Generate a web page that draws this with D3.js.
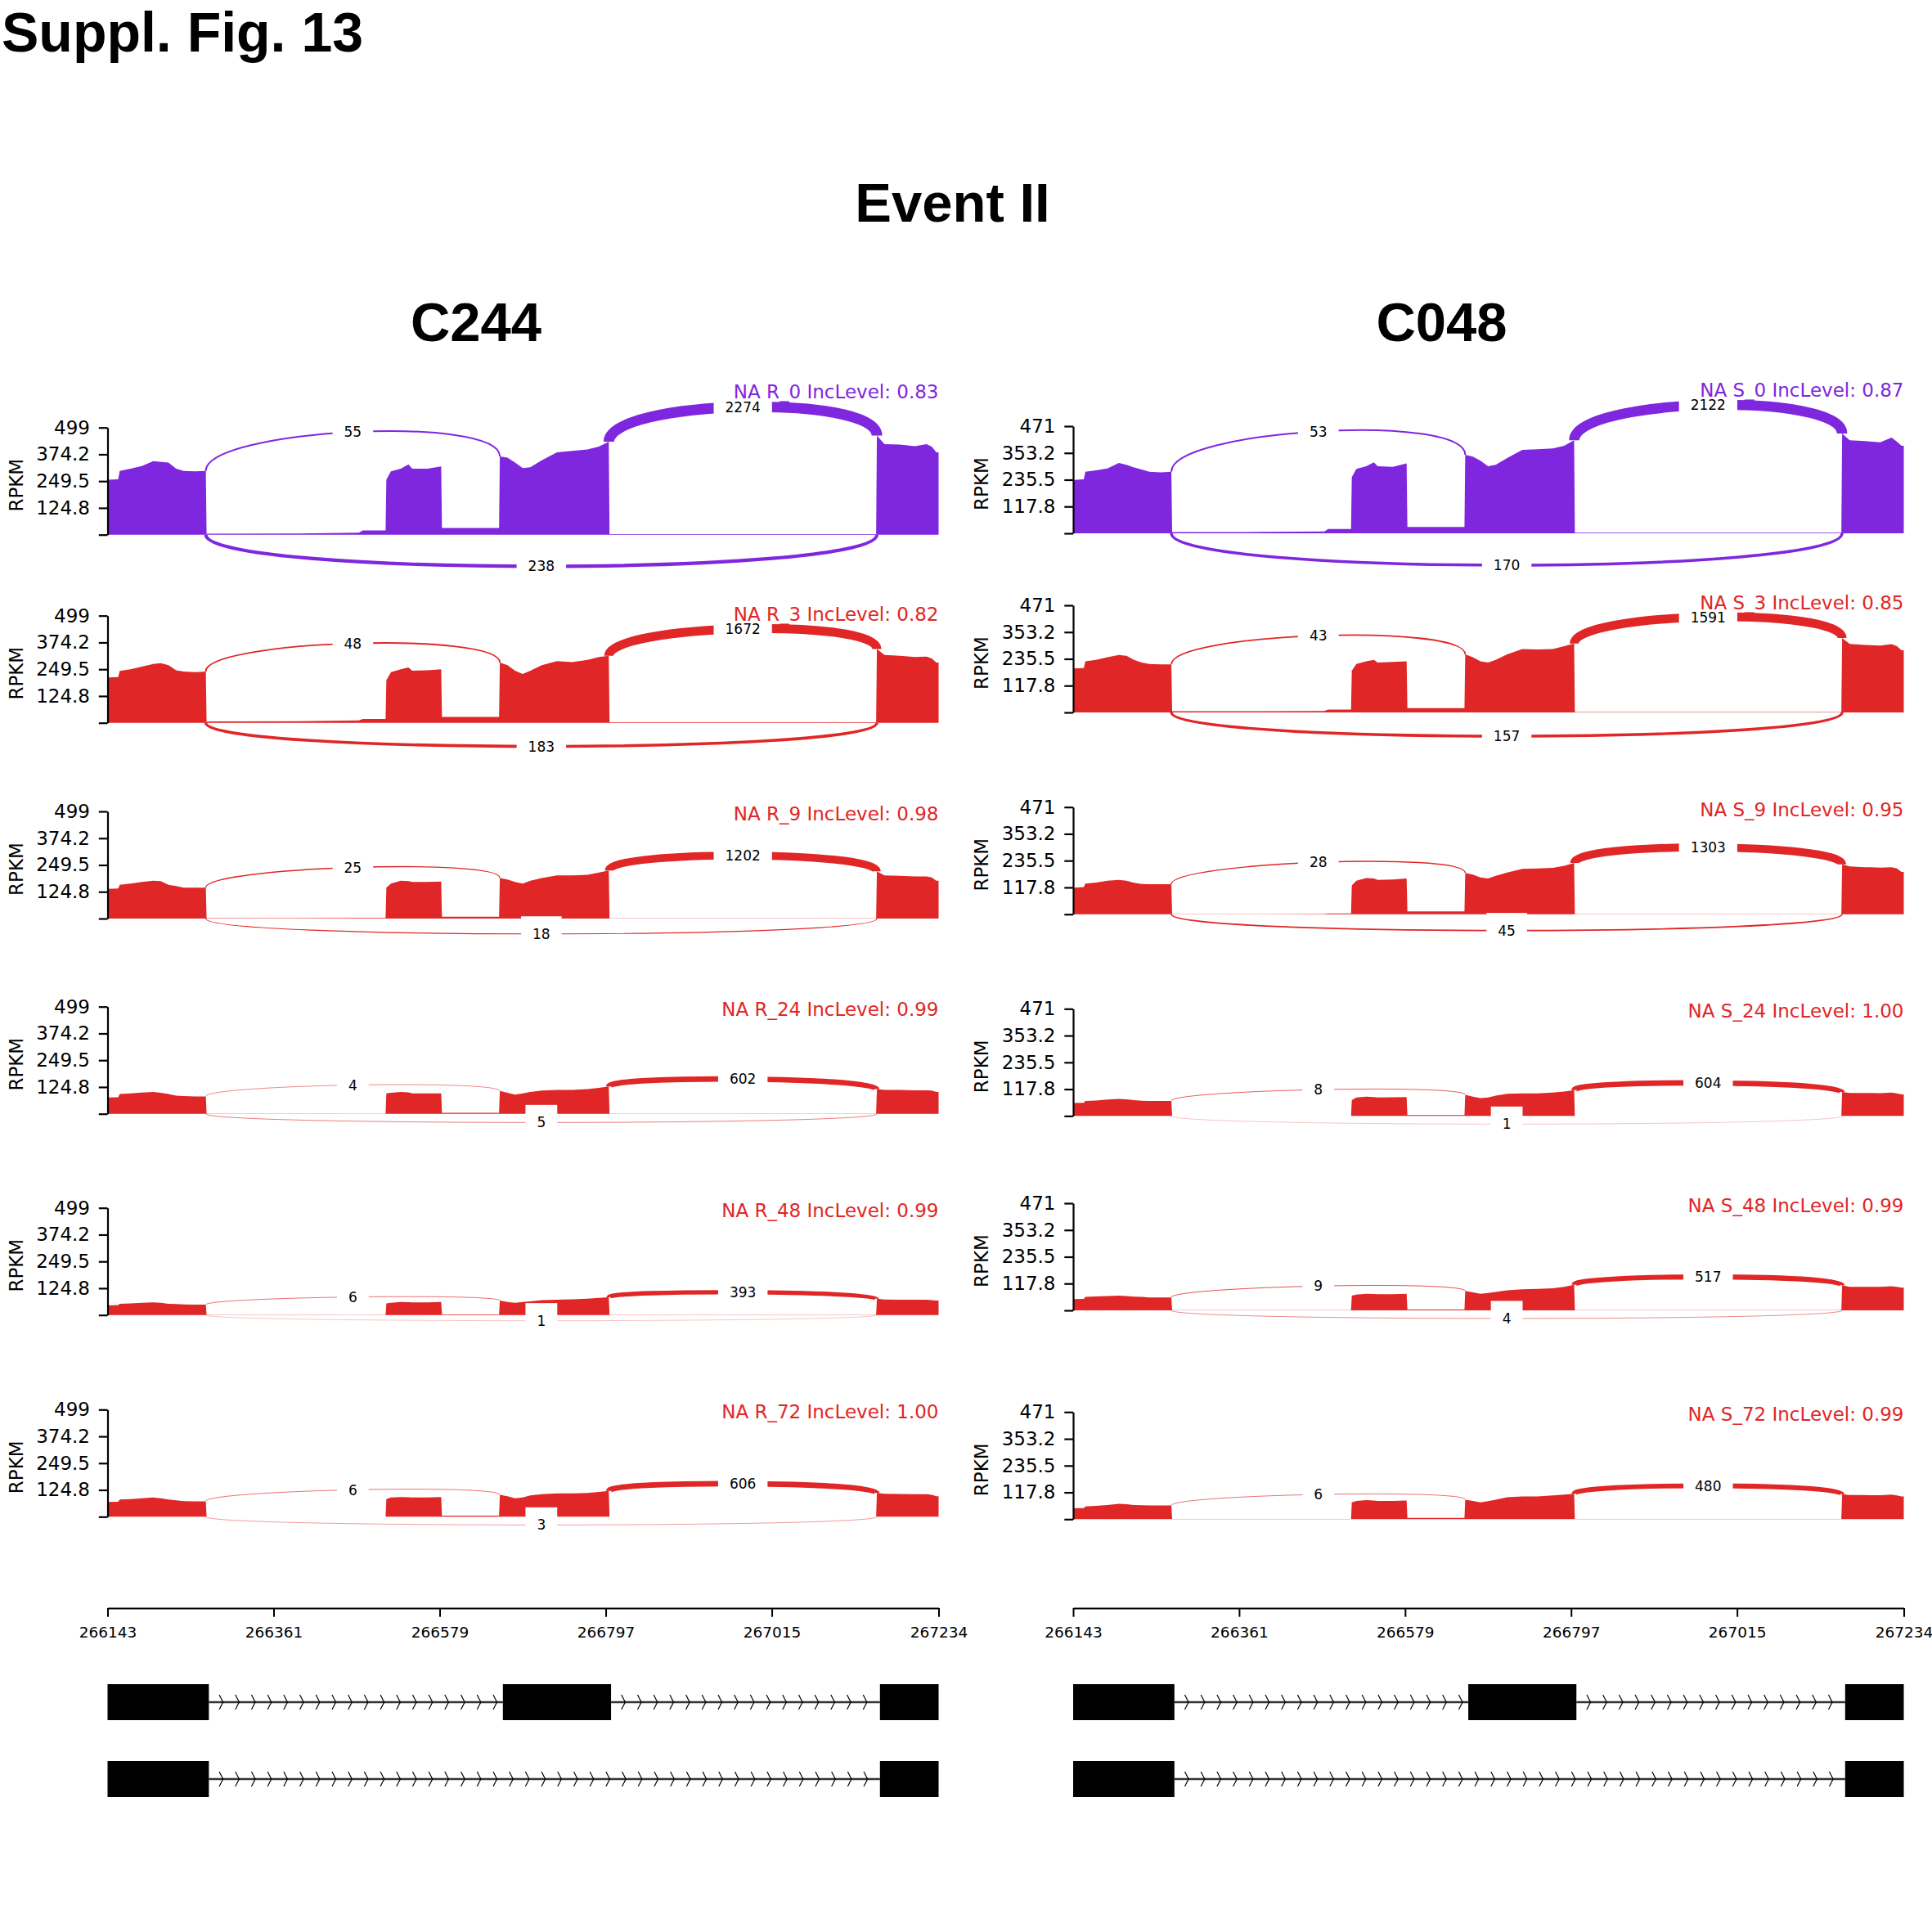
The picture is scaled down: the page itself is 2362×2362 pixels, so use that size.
<!DOCTYPE html>
<html><head><meta charset="utf-8">
<script src="https://cdn.jsdelivr.net/npm/d3@7"></script>
<style>body{margin:0;background:#fff} svg{display:block}</style>
</head><body>
<svg id="fig" width="2362" height="2362"></svg>
<script>
// ---------------- DATA ----------------
// genomic sample positions of the coverage tracks
const positions = [266143,266157,266159,266173,266188,266203,266213,266223,266233,266243,266258,266272,
  266273,266393,266473,266478,266508,
  266509,266515,266528,266538,266543,266563,266581,
  266582,266657,
  266658,266668,266678,266688,266698,266713,266733,266753,266773,266788,266801,
  266802,267152,
  267153,267163,267183,267203,267218,267225,267231,267234];

// RPKM coverage, C244 samples
const covR0  = [256,258,297,307,320,343,339,336,307,297,295,297, 5,6,9,20,20, 256,295,307,327,307,307,318, 31,31, 365,359,336,310,314,346,384,390,397,410,433, 3,3, 462,422,420,412,422,410,384,384];
const covR3  = [211,213,242,249,262,274,278,268,245,239,236,239, 6,7,11,18,18, 198,236,249,258,243,245,249, 27,27, 281,268,243,227,243,268,287,283,293,306,312, 3,3, 344,316,312,306,308,300,281,281];
const covR9  = [138,140,157,163,170,176,174,157,151,144,144,144, 2,2,3,3,3, 144,163,176,174,170,170,172, 9,9, 189,182,170,163,176,189,201,201,204,214,224, 1,1, 220,201,199,196,196,191,176,176];
const covR24 = [76,77,92,95,99,102,98,92,85,83,81,81, 1,1,1,1,1, 95,98,102,100,95,95,95, 5,5, 106,98,89,95,102,108,111,111,115,121,127, 0.5,0.5, 115,111,111,109,109,108,102,102];
const covR48 = [45,46,52,54,57,59,57,52,51,49,48,48, 0.5,0.5,0.5,0.5,0.5, 54,57,61,60,59,59,61, 3,3, 67,61,57,61,64,69,71,73,76,80,83, 0.5,0.5, 76,72,71,71,71,69,67,67];
const covR72 = [69,70,80,82,86,90,86,80,76,73,72,72, 0.5,0.5,0.5,0.5,0.5, 82,90,92,91,90,90,92, 5,5, 102,95,86,90,99,105,109,109,111,115,120, 0.5,0.5, 111,107,106,105,105,102,95,95];
// RPKM coverage, C048 samples
const covS0  = [235,237,271,277,285,309,301,289,280,271,268,271, 5,6,8,19,19, 247,283,295,312,295,292,307, 28,28, 345,337,319,295,301,331,367,369,373,385,409, 3,3, 439,409,405,400,421,403,385,385];
const covS3  = [193,195,225,231,243,253,249,231,219,213,211,211, 5,5,6,13,13, 183,213,225,231,219,222,225, 19,19, 255,243,225,219,231,255,279,277,279,291,303, 2,2, 327,301,297,294,300,291,273,273];
const covS9  = [117,119,135,139,147,151,147,138,133,132,132,132, 1,1,2,3,3, 127,147,159,157,151,153,157, 12,12, 181,174,162,157,169,183,199,201,204,213,225, 1,1, 219,210,207,205,207,201,186,186];
const covS24 = [57,58,66,68,72,75,73,69,67,66,66,66, 0.5,0.5,0.5,0.5,0.5, 69,81,85,83,81,82,83, 4,4, 93,85,78,81,89,97,99,99,103,107,113, 0.5,0.5, 105,101,101,100,103,99,95,95];
const covS48 = [49,50,59,61,63,65,63,60,59,57,57,57, 0.5,0.5,0.5,0.5,0.5, 65,69,73,72,71,71,73, 4,4, 85,79,73,76,81,88,93,94,97,103,112, 0.5,0.5, 111,103,103,103,106,103,100,100];
const covS72 = [48,49,56,59,62,68,66,62,61,60,60,60, 1,1,1,1,1, 74,80,84,82,80,80,82, 6,6, 86,80,74,79,86,96,100,100,104,108,112, 1,1, 110,106,106,105,108,104,100,100];

// junctions: [donor, acceptor, side]
const junctions = [[266272,266658,"up"],[266801,267153,"up"],[266272,267153,"down"]];

const samplesC244 = ["NA R_0","NA R_3","NA R_9","NA R_24","NA R_48","NA R_72"];
const incC244 = ["0.83","0.82","0.98","0.99","0.99","1.00"];
const countsC244 = [[55,2274,238],[48,1672,183],[25,1202,18],[4,602,5],[6,393,1],[6,606,3]];
const yTicksC244 = [0,124.8,249.5,374.2,499];

const samplesC048 = ["NA S_0","NA S_3","NA S_9","NA S_24","NA S_48","NA S_72"];
const incC048 = ["0.87","0.85","0.95","1.00","0.99","0.99"];
const countsC048 = [[53,2122,170],[43,1591,157],[28,1303,45],[8,604,1],[9,517,4],[6,480,0]];
const yTicksC048 = [0,117.8,235.5,353.2,471];

const genomicTicks = [266143,266361,266579,266797,267015,267234];
const isoform1 = [[266143,266276],[266662,266804],[267157,267234]];
const isoform2 = [[266143,266276],[267157,267234]];

// ---------------- STYLE / LAYOUT ----------------
const PURPLE = "#7f26df", RED = "#e02626";
const PANEL_H = 131;
const FONT = "'DejaVu Sans', sans-serif";
const TFONT = "'Liberation Sans', Arial, sans-serif";

const columns = [
  {name:"C244", cx:582, x0:131.5, x1:1147.5, zeros:[653.7,883.7,1123,1361.7,1607.7,1854.3],
   samples:samplesC244, inc:incC244, counts:countsC244, yTicks:yTicksC244,
   cov:[covR0,covR3,covR9,covR24,covR48,covR72]},
  {name:"C048", cx:1762.5, x0:1312, x1:2327.5, zeros:[652,871,1117.7,1364.3,1602,1857.3],
   samples:samplesC048, inc:incC048, counts:countsC048, yTicks:yTicksC048,
   cov:[covS0,covS3,covS9,covS24,covS48,covS72]}
];

const svg = d3.select("#fig");
svg.append("rect").attr("width",2362).attr("height",2362).attr("fill","#fff");

svg.append("text").attr("x",2).attr("y",63).attr("font-family",TFONT).attr("font-weight","bold")
  .attr("font-size",68).text("Suppl. Fig. 13");
svg.append("text").attr("x",1164.5).attr("y",271).attr("text-anchor","middle").attr("font-family",TFONT)
  .attr("font-weight","bold").attr("font-size",67).text("Event II");

columns.forEach(col => {
  svg.append("text").attr("x",col.cx).attr("y",417).attr("text-anchor","middle").attr("font-family",TFONT)
    .attr("font-weight","bold").attr("font-size",67).text(col.name);

  const x = d3.scaleLinear().domain([genomicTicks[0], genomicTicks[genomicTicks.length-1]]).range([col.x0, col.x1]);
  const ymax = col.yTicks[col.yTicks.length-1];

  col.cov.forEach((cov, r) => {
    const color = r === 0 ? PURPLE : RED;
    const zeroY = col.zeros[r];
    const y = d3.scaleLinear().domain([0, ymax]).range([zeroY, zeroY - PANEL_H]);
    const g = svg.append("g");

    // coverage
    const area = d3.area().x((d,i)=>x(positions[i])).y0(y(0)).y1(d=>y(d));
    g.append("path").attr("d", area(cov)).attr("fill", color);

    // y axis
    const axis = d3.axisLeft(y).tickValues(col.yTicks).tickFormat(v => v === 0 ? "" : String(v))
      .tickSize(10.7).tickSizeOuter(0).tickPadding(10.8);
    const ag = g.append("g").attr("transform", `translate(${col.x0},0)`).call(axis);
    ag.select(".domain").attr("stroke","#000").attr("stroke-width",2.2);
    ag.selectAll(".tick line").attr("stroke","#000").attr("stroke-width",2.2);
    ag.selectAll(".tick text").attr("font-family",FONT).attr("font-size",23).attr("fill","#000");

    g.append("text").attr("transform",`translate(${col.x0-112},${(zeroY + zeroY-PANEL_H)/2+5}) rotate(-90)`)
      .attr("text-anchor","middle").attr("dy","0.35em").attr("font-family",FONT).attr("font-size",23).text("RPKM");

    // junction arcs
    const h = 0.425 * d3.max(cov);
    const covAt = p => cov[positions.indexOf(p)];
    const arcs = [];
    junctions.forEach((j, k) => {
      const count = col.counts[r][k];
      if (!count) return;
      const x1 = x(j[0]), x2 = x(j[1]);
      const p = d3.path();
      let labVal;
      if (j[2] === "up") {
        const ld = covAt(j[0]), rd = covAt(j[1]);
        p.moveTo(x1, y(ld));
        p.bezierCurveTo(x1, y(ld+h), x2, y(rd+h), x2, y(rd));
        labVal = (ld+rd)/2 + 0.75*h;
      } else {
        p.moveTo(x1, y(0));
        p.bezierCurveTo(x1, y(-h), x2, y(-h), x2, y(0));
        labVal = -0.75*h;
      }
      const w = 0.27 * Math.sqrt(count);
      g.append("path").attr("d", p.toString()).attr("fill","none").attr("stroke",color).attr("stroke-width",w);
      arcs.push({x:(x1+x2)/2, y:y(labVal), count, w, up:j[2]==="up"});
    });

    // junction labels with white boxes
    arcs.forEach(a => {
      const t = g.append("text").attr("x",a.x).attr("y",a.y).attr("dy","0.36em").attr("text-anchor","middle")
        .attr("font-family",FONT).attr("font-size",17).attr("fill","#000").text(a.count);
      const tw = t.node().getComputedTextLength();
      g.insert("rect", () => t.node()).attr("x", a.x - tw/2 - 14).attr("y", a.y - 21.5)
        .attr("width", tw + 28).attr("height", 43).attr("fill","#fff");
    });

    // sample title (drawn over the label boxes)
    let topPx = y(ymax);
    arcs.filter(a=>a.up).forEach(a => { topPx = Math.min(topPx, a.y - a.w/2 - 15); });
    g.append("text").attr("x", col.x1).attr("y", topPx + 11).attr("text-anchor","end")
      .attr("font-family",FONT).attr("font-size",23).attr("fill",color)
      .text(col.samples[r] + " IncLevel: " + col.inc[r]);
  });

  // genomic axis
  const gx = d3.axisBottom(x).tickValues(genomicTicks).tickFormat(d=>String(d))
    .tickSize(10.7).tickSizeOuter(0).tickPadding(12.2);
  const gax = svg.append("g").attr("transform","translate(0,1966)").call(gx);
  gax.select(".domain").attr("stroke","#000").attr("stroke-width",2.2);
  gax.selectAll(".tick line").attr("stroke","#000").attr("stroke-width",2);
  gax.selectAll(".tick text").attr("font-family",FONT).attr("font-size",18.5).attr("fill","#000");

  // gene models
  [[isoform1, 2081],[isoform2, 2175]].forEach(([exons, cy]) => {
    const gg = svg.append("g");
    for (let i = 0; i < exons.length - 1; i++) {
      const a = x(exons[i][1]), b = x(exons[i+1][0]);
      gg.append("line").attr("x1",a).attr("x2",b).attr("y1",cy).attr("y2",cy)
        .attr("stroke","#333").attr("stroke-width",2.4);
      for (let px = a + 15; px < b - 8; px += 19.7) {
        gg.append("path").attr("d",`M${px-2.3},${cy-9}L${px+2.3},${cy}L${px-2.3},${cy+9}`)
          .attr("fill","none").attr("stroke","#000").attr("stroke-width",1.2);
      }
    }
    exons.forEach(e => {
      gg.append("rect").attr("x",x(e[0])).attr("y",cy-22).attr("width",x(e[1])-x(e[0])).attr("height",44).attr("fill","#000");
    });
  });
});
</script>
</body></html>
